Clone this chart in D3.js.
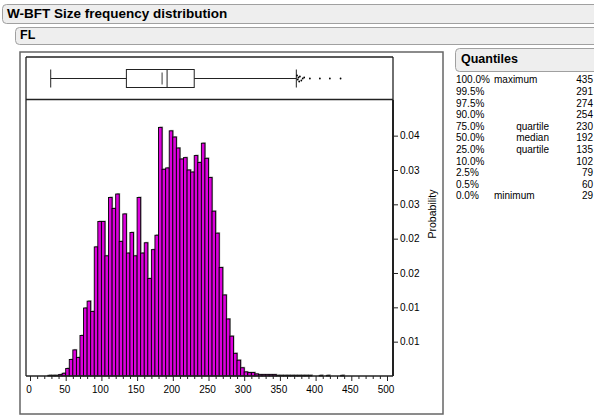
<!DOCTYPE html>
<html><head><meta charset="utf-8">
<script src="https://cdn.jsdelivr.net/npm/d3@7"></script>
<style>
html,body{margin:0;padding:0;background:#fff;overflow:hidden;}
svg{display:block;font-family:"Liberation Sans",Arial,Helvetica,sans-serif;}
</style></head><body>
<svg id="c" width="594" height="417"></svg>
<script>
// ---------- DATA ----------
const titleText = "W-BFT Size frequency distribution";
const columnName = "FL";
const binStarts = [25,30,35,40,45,50,55,60,65,70,75,80,85,90,95,100,105,110,115,120,125,130,135,140,145,150,155,160,165,170,175,180,185,190,195,200,205,210,215,220,225,230,235,240,245,250,255,260,265,270,275,280,285,290,295,300,305,310,315,320,325,330,335,340,345,350,355,360,365,370,375,380,385,390,395,400,405,410,415,420,425,430,435];
const binWidth = 5;
const binProbs = [0.0001,0.0001,0.0001,0.0002,0.0004,0.0011,0.0024,0.0038,0.0027,0.0059,0.0099,0.0109,0.0094,0.0188,0.0225,0.0225,0.0175,0.0260,0.0244,0.0265,0.0196,0.0236,0.0179,0.0209,0.0175,0.0260,0.0179,0.0194,0.0142,0.0184,0.0205,0.0362,0.0301,0.0303,0.0357,0.0348,0.0332,0.0316,0.0318,0.0300,0.0297,0.0321,0.0311,0.0339,0.0317,0.0289,0.0240,0.0208,0.0158,0.0118,0.0083,0.0058,0.0033,0.0023,0.0012,0.0006,0.0005,0.0005,0.0003,0.0002,0.0002,0.0002,0.0002,0.0002,0.0001,0.0001,0.0001,0.0001,0.0001,0.0001,0.0001,0.0001,0.0001,0.0001,0,0,0.0001,0,0.0001,0,0,0,0.0001];
const xTickValues = [0,50,100,150,200,250,300,350,400,450,500];
const xMinorTicks = [10,20,30,40,60,70,80,90,110,120,130,140,160,170,180,190,210,220,230,240,260,270,280,290,310,320,330,340,360,370,380,390,410,420,430,440,460,470,480,490];
const yTickValues = [0.005,0.010,0.015,0.020,0.025,0.030,0.035];
const yTickLabels = ["0.01","0.01","0.02","0.02","0.03","0.03","0.04"];
const yAxisTitle = "Probability";
// box plot summary
const boxMin = 29, boxQ1 = 135, boxMedian = 192, boxQ3 = 230, boxUpperWhisker = 373, boxMean = 185;
const outliers = [374,375,376,377,378,380,382,384,392,406,420,435];
// quantiles table
const quantTitle = "Quantiles";
const quantLevels = ["100.0%","99.5%","97.5%","90.0%","75.0%","50.0%","25.0%","10.0%","2.5%","0.5%","0.0%"];
const quantNames = ["maximum","","","","quartile","median","quartile","","","","minimum"];
const quantValues = [435,291,274,254,230,192,135,102,79,60,29];

// ---------- LAYOUT ----------
const svg = d3.select("#c");
const frameL = 26, frameR = 393, boxTop = 57, histTop = 99.5, baseY = 376;
const x = d3.scaleLinear().domain([0,500]).range([30,387]);
const y = d3.scaleLinear().domain([0,0.035]).range([baseY, baseY - 0.035*6867]);

function header(xp, yp, w, h, text, size, tx){
  svg.append("rect").attr("x",xp+0.5).attr("y",yp+0.5).attr("width",w).attr("height",h)
    .attr("rx",4).attr("fill","#eeeeee").attr("stroke","#a0a0a0");
  svg.append("text").attr("x",xp+tx).attr("y",yp+h/2+0.5).attr("dominant-baseline","middle")
    .attr("font-weight","bold").attr("font-size",size).attr("fill","#000").text(text);
}
header(2,4,620,19,titleText,13.5,5);
header(15,27,620,17,columnName,12.5,5);

// outer panel
svg.append("rect").attr("x",20).attr("y",52).attr("width",423).attr("height",362)
  .attr("fill","none").attr("stroke","#666").attr("stroke-width",1.5);

// frames
const g = svg.append("g");
g.append("line").attr("x1",frameL).attr("x2",frameR).attr("y1",boxTop).attr("y2",boxTop).attr("stroke","#222").attr("stroke-width",1.3);
g.append("line").attr("x1",frameL).attr("x2",frameR).attr("y1",histTop).attr("y2",histTop).attr("stroke","#222").attr("stroke-width",1.3);
g.append("line").attr("x1",frameL).attr("x2",frameL).attr("y1",boxTop).attr("y2",baseY).attr("stroke","#222").attr("stroke-width",1.3);
g.append("line").attr("x1",frameR).attr("x2",frameR).attr("y1",boxTop).attr("y2",histTop).attr("stroke","#222").attr("stroke-width",1.3);

// histogram bars
const bins = binStarts.map((s,i)=>({s, p: binProbs[i]})).filter(d=>d.p>0);
g.selectAll("rect.sh").data(bins).enter().append("rect").attr("class","sh")
  .attr("x",d=>x(d.s)+1).attr("y",d=>y(d.p)-1)
  .attr("width",d=>x(d.s+binWidth)-x(d.s)).attr("height",d=>y(0)-y(d.p))
  .attr("fill","#aaaaaa");
g.selectAll("rect.bar").data(bins).enter().append("rect").attr("class","bar")
  .attr("x",d=>x(d.s)).attr("y",d=>y(d.p))
  .attr("width",d=>x(d.s+binWidth)-x(d.s)).attr("height",d=>y(0)-y(d.p))
  .attr("fill","#dd00dd").attr("stroke","#000").attr("stroke-width",0.9);

// x axis
const xAxis = d3.axisBottom(x).tickValues(xTickValues).tickSize(5).tickSizeOuter(0);
const xa = svg.append("g").attr("transform",`translate(0,${baseY})`).call(xAxis);
xa.select(".domain").remove();
xa.selectAll(".tick line").attr("stroke","#222");
xa.selectAll(".tick text").attr("font-size",10).attr("font-family","Liberation Sans, Arial, sans-serif").attr("fill","#000").attr("dy","0.9em").attr("dx",-1.5);
const xm = d3.axisBottom(x).tickValues(xMinorTicks).tickSize(3).tickFormat("");
const xma = svg.append("g").attr("transform",`translate(0,${baseY})`).call(xm);
xma.select(".domain").remove();
xma.selectAll(".tick line").attr("stroke","#222");
svg.append("line").attr("x1",frameL).attr("x2",frameR).attr("y1",baseY).attr("y2",baseY).attr("stroke","#222").attr("stroke-width",1.5);

// y axis right
const yAxis = d3.axisRight(y).tickValues(yTickValues).tickFormat((d,i)=>yTickLabels[i]).tickSize(5);
const ya = svg.append("g").attr("transform",`translate(${frameR},0)`).call(yAxis);
ya.select(".domain").remove();
ya.selectAll(".tick line").attr("stroke","#222");
ya.selectAll(".tick text").attr("font-size",10).attr("font-family","Liberation Sans, Arial, sans-serif").attr("fill","#000").attr("x",7);
svg.append("line").attr("x1",frameR).attr("x2",frameR).attr("y1",histTop).attr("y2",baseY).attr("stroke","#222").attr("stroke-width",2);
svg.append("text").attr("transform",`translate(433,214) rotate(-90)`).attr("text-anchor","middle")
  .attr("dominant-baseline","middle").attr("font-size",10.5).text(yAxisTitle);

// box plot
const cy = 78.5, bh = 18;
const bp = svg.append("g").attr("stroke","#222").attr("stroke-width",1).attr("fill","none");
bp.append("line").attr("x1",x(boxMin)).attr("x2",x(boxQ1)).attr("y1",cy).attr("y2",cy);
bp.append("line").attr("x1",x(boxQ3)).attr("x2",x(boxUpperWhisker)).attr("y1",cy).attr("y2",cy);
bp.append("line").attr("x1",x(boxMin)).attr("x2",x(boxMin)).attr("y1",cy-bh/2).attr("y2",cy+bh/2);
bp.append("line").attr("x1",x(boxUpperWhisker)).attr("x2",x(boxUpperWhisker)).attr("y1",cy-bh/2).attr("y2",cy+bh/2);
bp.append("rect").attr("x",x(boxQ1)).attr("y",cy-bh/2).attr("width",x(boxQ3)-x(boxQ1)).attr("height",bh);
bp.append("line").attr("x1",x(boxMedian)).attr("x2",x(boxMedian)).attr("y1",cy-bh/2).attr("y2",cy+bh/2);
bp.append("line").attr("x1",x(boxMean)).attr("x2",x(boxMean)).attr("y1",cy-bh/2+3).attr("y2",cy+bh/2-3).attr("stroke-width",0.9);
const jit = [-3,1,-1,3,-2,2,0,-1,0,0,0,0];
svg.selectAll("circle.out").data(outliers).enter().append("circle").attr("class","out")
  .attr("cx",d=>x(d)).attr("cy",(d,i)=>cy+jit[i]).attr("r",0.9).attr("fill","#000");

// quantiles table
header(455,48,160,23,quantTitle,12.5,6);
const rowY0 = 80.7, rowStep = 11.6;
const tq = svg.append("g").attr("font-size",10).attr("fill","#000");
quantLevels.forEach((lv,i)=>{
  const yy = rowY0 + i*rowStep;
  tq.append("text").attr("x",456).attr("y",yy).attr("dominant-baseline","middle").text(lv);
  const nm = quantNames[i];
  if(nm){
    const isEnd = (nm==="quartile"||nm==="median");
    tq.append("text").attr("x", isEnd?549:494).attr("y",yy).attr("dominant-baseline","middle")
      .attr("text-anchor", isEnd?"end":"start").text(nm);
  }
  tq.append("text").attr("x",593).attr("y",yy).attr("dominant-baseline","middle").attr("text-anchor","end").text(quantValues[i]);
});
</script>
</body></html>
